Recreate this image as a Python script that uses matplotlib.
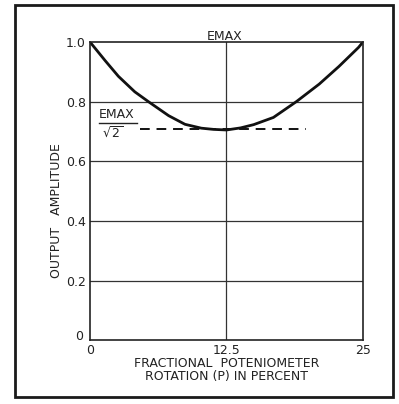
import numpy as np
import matplotlib.pyplot as plt
from matplotlib.patches import Rectangle

# curve
rotation = [0, 1.4, 2.6, 4.1, 5.35, 7.2, 8.7, 10.2, 11.3, 12.5, 13.8, 15.0, 16.8,
            18.9, 21.0, 22.8, 24.6, 25]
amplitude = [1.0, 0.937, 0.885, 0.833, 0.80, 0.753, 0.724, 0.711, 0.707, 0.705, 0.712,
             0.723, 0.747, 0.80, 0.859, 0.918, 0.982, 1.0]

# EMAX / sqrt(2) reference line
ref_level = 0.707
ref_start, ref_end = 4.6, 19.8

yticks = [0, 0.2, 0.4, 0.6, 0.8, 1.0]
ytick_labels = ['0', '0.2', '0.4', '0.6', '0.8', '1.0']
xticks = [0, 12.5, 25]
xtick_labels = ['0', '12.5', '25']

plt.rcParams['font.family'] = ['DejaVu Sans']
plt.rcParams['font.size'] = 9

fig = plt.figure(figsize=(3.99, 4.04), dpi=100)
ax = fig.add_axes([0.2256, 0.158, 0.684, 0.738])

# outer frame of the figure
fig.patches.append(Rectangle((0.038, 0.017), 0.947, 0.97, transform=fig.transFigure,
                             fill=False, edgecolor='#1a1a1a', linewidth=2.0))

ax.set_xlim(0, 25)
ax.set_ylim(0, 1.0)

for y in yticks[1:-1]:
    ax.axhline(y, color='#333333', linewidth=0.9)
ax.axvline(12.5, color='#333333', linewidth=0.9)

ax.plot(rotation, amplitude, color='#111111', linewidth=2.0,
        solid_joinstyle='round', solid_capstyle='round')
ax.plot([ref_start, ref_end], [ref_level, ref_level], color='#111111',
        linewidth=1.4, linestyle=(0, (5, 3.5)))

for s in ax.spines.values():
    s.set_color('#222222')
    s.set_linewidth(1.2)

ax.set_yticks(yticks[1:])
ax.set_yticklabels(ytick_labels[1:])
ax.set_xticks(xticks)
ax.set_xticklabels(xtick_labels)
ax.tick_params(length=0, pad=3, colors='#222222')
ax.text(-0.6, 0.012, '0', ha='right', va='center', fontsize=9, color='#222222')

ax.set_ylabel('OUTPUT   AMPLITUDE', color='#222222', labelpad=6)
ax.yaxis.set_label_coords(-0.10, 0.435)
ax.set_xlabel('FRACTIONAL  POTENIOMETER\nROTATION (P) IN PERCENT', color='#222222',
              labelpad=0, linespacing=1.0)

ax.text(12.3, 0.997, 'EMAX', ha='center', va='bottom', fontsize=9, color='#222222')

# EMAX over root 2 label
ax.text(0.8, 0.735, 'EMAX', ha='left', va='bottom', fontsize=9, color='#222222')
ax.plot([0.8, 4.3], [0.728, 0.728], color='#222222', linewidth=1.0, clip_on=False)
ax.text(1.1, 0.72, r'$\sqrt{\mathregular{2}}$', ha='left', va='top', fontsize=9, color='#222222')

fig.savefig('out.png', dpi=100)
